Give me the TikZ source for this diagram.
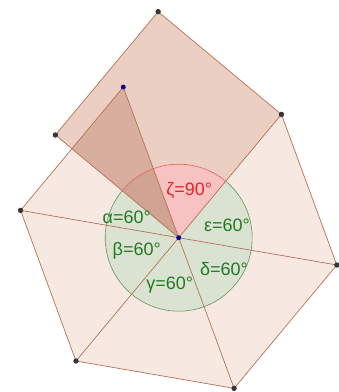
\documentclass[tikz,border=0pt]{standalone}
\usepackage{fontspec}
\setmainfont{Liberation Sans}
\usepackage{xcolor}
\usepackage{tikz}
\usetikzlibrary{calc}

\definecolor{edgebrown}{RGB}{182,114,84}
\definecolor{hexfill}{RGB}{248,232,226}
\definecolor{sqfill}{RGB}{236,207,195}
\definecolor{ovfill}{RGB}{216,175,158}
\definecolor{ovdark}{RGB}{208,163,146}
\definecolor{greenfill}{RGB}{218,227,210}
\definecolor{redfill}{RGB}{246,194,194}
\definecolor{arcgreen}{RGB}{96,150,96}
\definecolor{arcred}{RGB}{232,96,96}
\definecolor{lblgreen}{RGB}{34,122,34}
\definecolor{lblred}{RGB}{232,36,36}
\definecolor{dotgray}{RGB}{55,55,55}
\definecolor{dotblue}{RGB}{10,10,150}

\begin{document}
\begin{tikzpicture}[x=1pt, y=1pt,
  edge/.style={draw=edgebrown, line width=0.7pt},
  lbl/.style={font=\fontsize{18}{20}\selectfont, inner sep=0pt}]
\useasboundingbox (-178.7,-154.3) rectangle (160.3,237.7);
\def\side{160.5}
\def\rad{73.5}
\def\rot{50.2}
% centre and vertices
\coordinate (C) at (0,0);
\foreach [count=\i from 0] \name in {R,B,P1,P2,P3,P4}{
  \coordinate (\name) at (\rot+60*\i:\side);
}
\coordinate (L) at (\rot+90:\side);
\coordinate (T) at (\rot+45:{\side*sqrt(2)});
% fills
\fill[hexfill] (C) -- (B) -- (P1) -- (P2) -- (P3) -- (P4) -- (R) -- cycle;
\fill[sqfill] (C) -- (R) -- (T) -- (L) -- cycle;
\begin{scope}
  \clip (C) -- (R) -- (T) -- (L) -- cycle;
  \fill[ovfill] (C) -- (B) -- (P1) -- cycle;
\end{scope}
% angles
\fill[greenfill] (C) -- (\rot+90:\rad) arc[start angle=\rot+90, end angle=\rot+360, radius=\rad pt] -- cycle;
\fill[redfill] (C) -- (\rot:\rad) arc[start angle=\rot, end angle=\rot+60, radius=\rad pt] -- cycle;
\fill[ovdark] (C) -- (\rot+60:\rad) arc[start angle=\rot+60, end angle=\rot+90, radius=\rad pt] -- cycle;
\draw[arcgreen, line width=0.6pt] (\rot+90:\rad) arc[start angle=\rot+90, end angle=\rot+360, radius=\rad pt];
\draw[arcred, line width=0.6pt] (\rot:\rad) arc[start angle=\rot, end angle=\rot+90, radius=\rad pt];
% edges
\draw[edge] (C) -- (R) -- (T) -- (L) -- cycle;
\draw[edge] (R) -- (P4) -- (P3) -- (P2) -- (P1) -- (B) -- (C);
\foreach \p in {P1,P2,P3,P4}
  \draw[edge] (C) -- (\p);
% points
\foreach \p in {T,R,L,P1,P2,P3,P4}
  \fill[dotgray] (\p) circle (2.7pt);
\foreach \p in {B,C}
  \fill[dotblue] (\p) circle (2.5pt);
% labels
\node[lbl, text=lblred] (zeta) at (10.5,46.9) {ζ=90°};
\node[lbl, text=lblgreen] (alpha) at (-52,20) {α=60°};
\node[lbl, text=lblgreen] (beta) at (-42,-13.6) {β=60°};
\node[lbl, text=lblgreen] (gamma) at (-9,-47.8) {γ=60°};
\node[lbl, text=lblgreen] (delta) at (45.3,-31.3) {δ=60°};
\node[lbl, text=lblgreen] (eps) at (48.3,12.2) {ε=60°};
\end{tikzpicture}
\end{document}
